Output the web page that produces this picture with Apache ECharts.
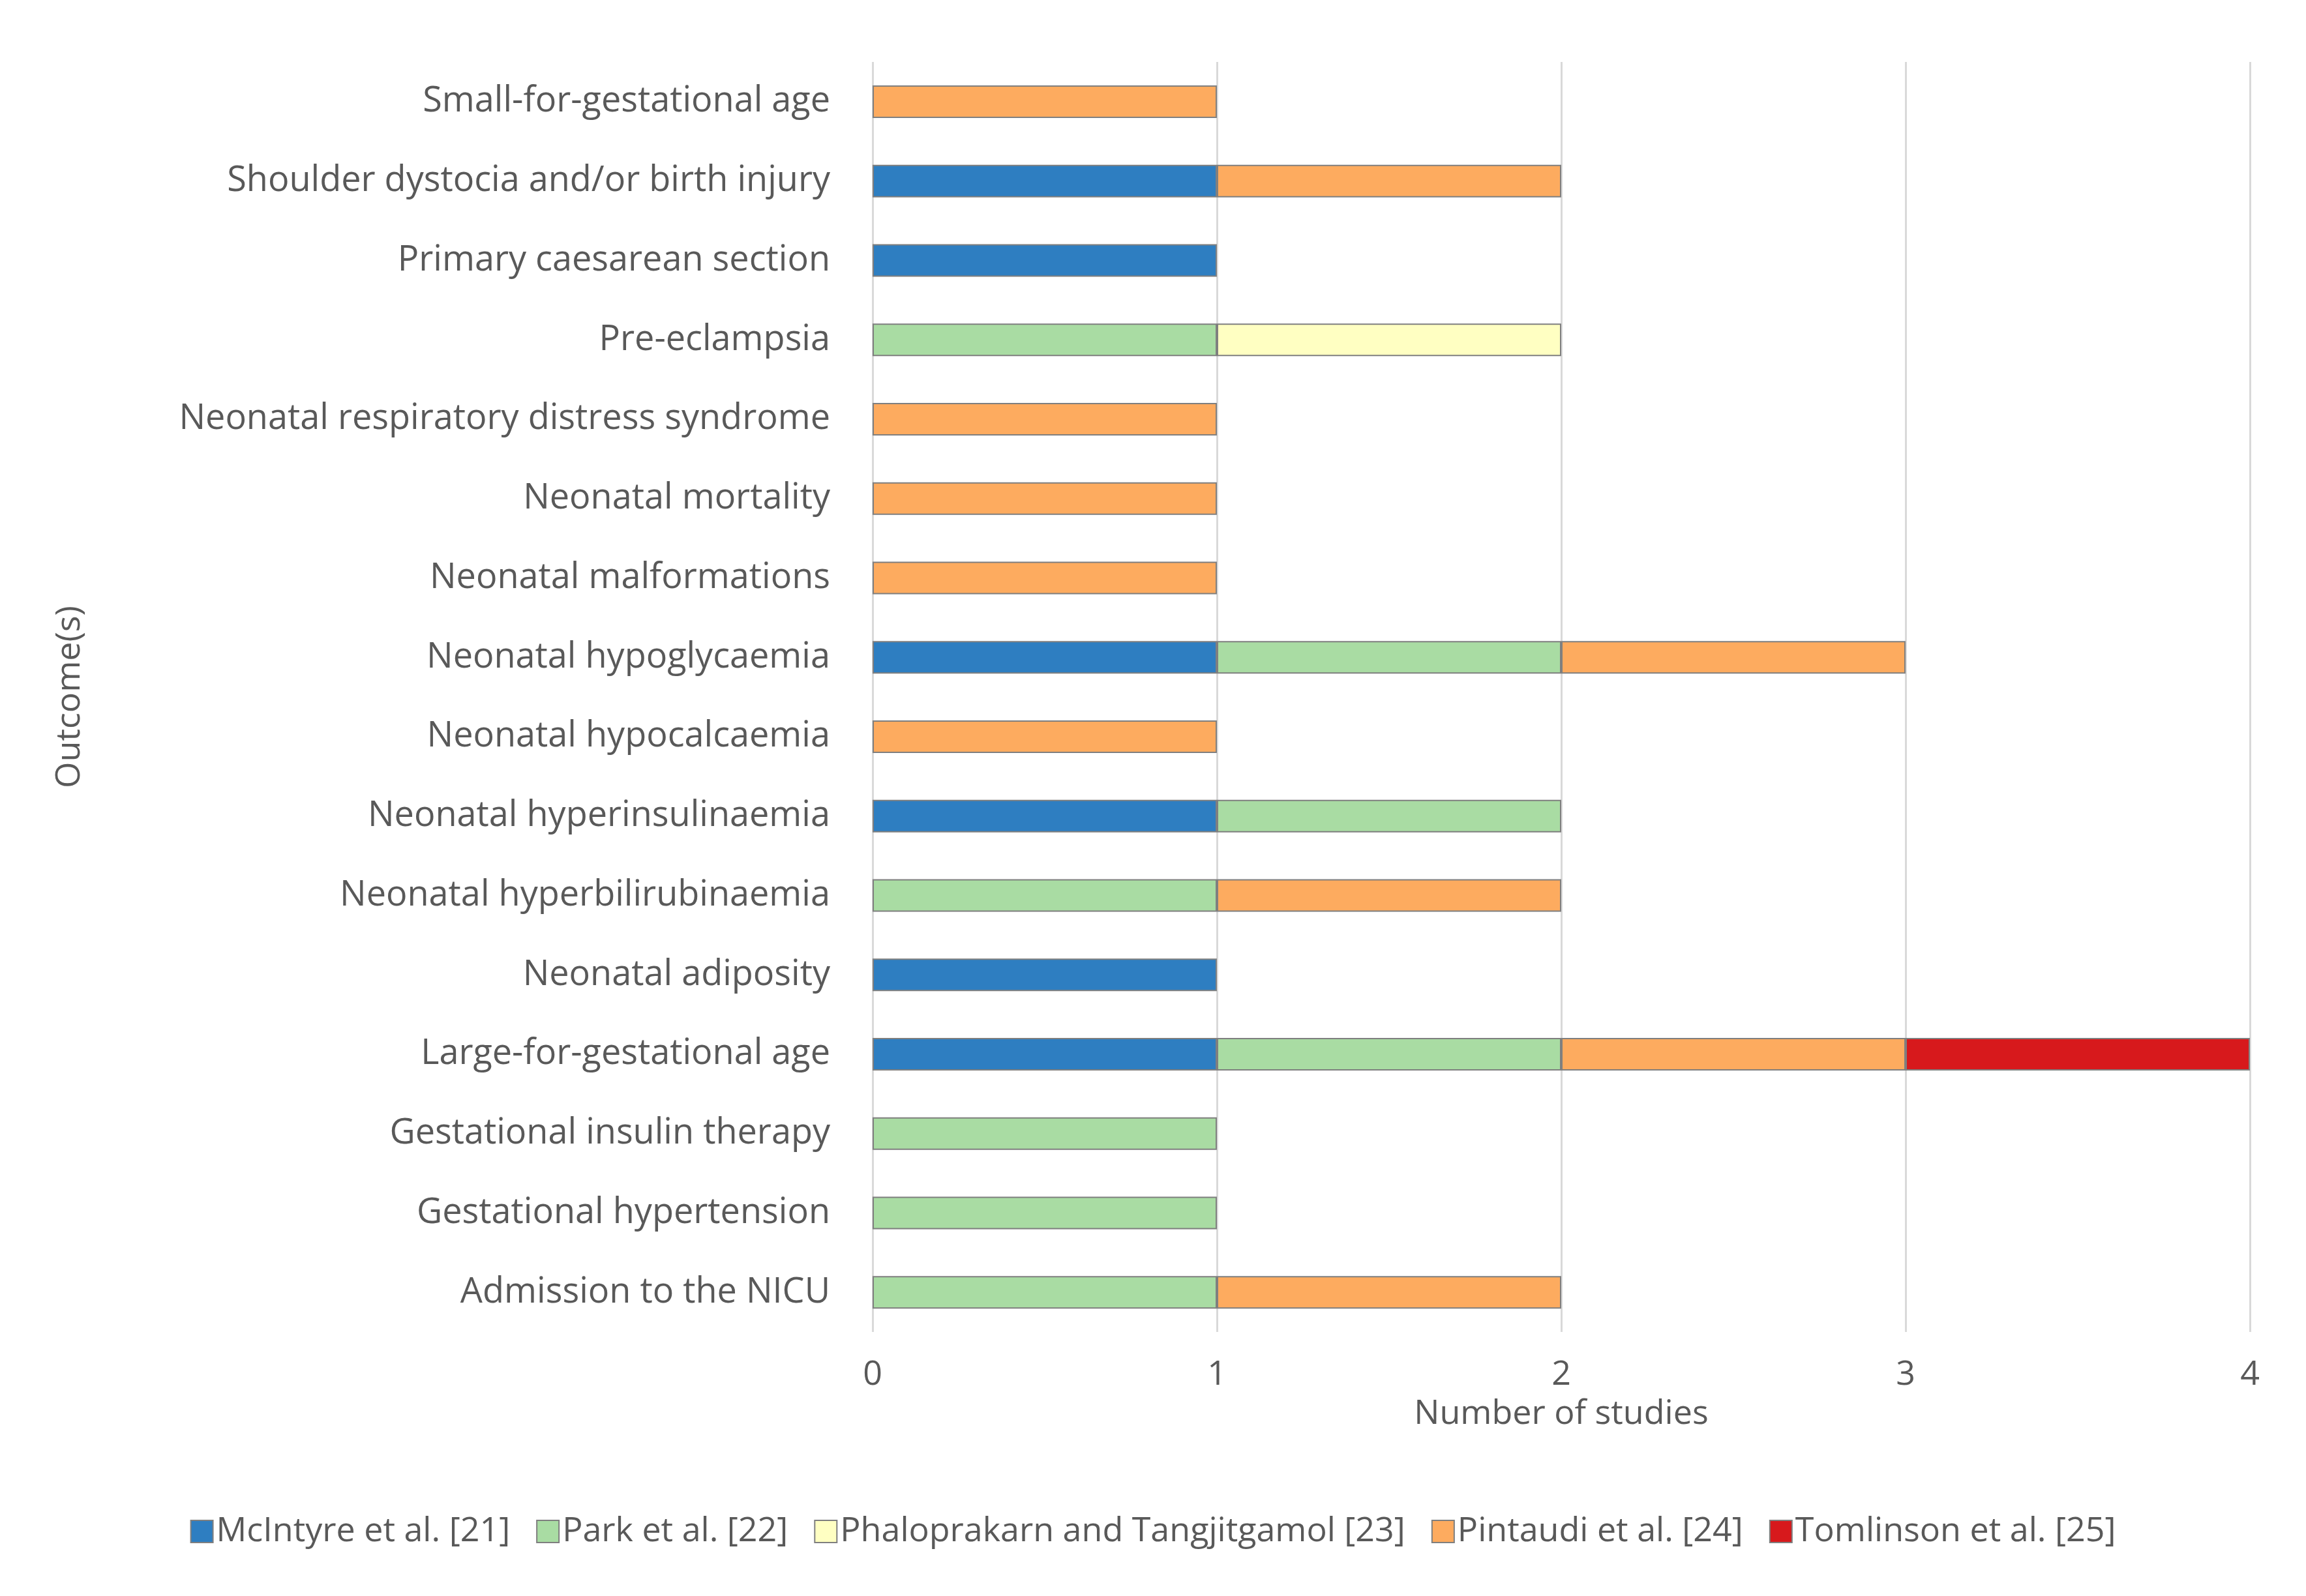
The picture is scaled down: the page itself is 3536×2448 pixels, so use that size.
<!DOCTYPE html>
<html>
<head>
<meta charset="utf-8">
<script src="https://cdn.jsdelivr.net/npm/echarts@6/dist/echarts.min.js"></script>
<style>html,body{margin:0;background:#fff}#chart{width:3536px;height:2448px}</style>
</head>
<body>
<div id="chart"></div>
<script>
// categories, top to bottom
const outcomes = [
    'Small-for-gestational age', 'Shoulder dystocia and/or birth injury', 'Primary caesarean section',
    'Pre-eclampsia', 'Neonatal respiratory distress syndrome', 'Neonatal mortality',
    'Neonatal malformations', 'Neonatal hypoglycaemia', 'Neonatal hypocalcaemia',
    'Neonatal hyperinsulinaemia', 'Neonatal hyperbilirubinaemia', 'Neonatal adiposity',
    'Large-for-gestational age', 'Gestational insulin therapy', 'Gestational hypertension',
    'Admission to the NICU'
];
const mcintyre  = [0, 1, 1, 0, 0, 0, 0, 1, 0, 1, 0, 1, 1, 0, 0, 0];
const park      = [0, 0, 0, 1, 0, 0, 0, 1, 0, 1, 1, 0, 1, 1, 1, 1];
const phalo     = [0, 0, 0, 1, 0, 0, 0, 0, 0, 0, 0, 0, 0, 0, 0, 0];
const pintaudi  = [1, 1, 0, 0, 1, 1, 1, 1, 1, 0, 1, 0, 1, 0, 0, 1];
const tomlinson = [0, 0, 0, 0, 0, 0, 0, 0, 0, 0, 0, 0, 1, 0, 0, 0];

const seriesDefs = [
    {name: 'McIntyre et al. [21]', data: mcintyre, color: '#2E7EC1'},
    {name: 'Park et al. [22]', data: park, color: '#A9DCA3'},
    {name: 'Phaloprakarn and Tangjitgamol [23]', data: phalo, color: '#FFFFC2'},
    {name: 'Pintaudi et al. [24]', data: pintaudi, color: '#FDAB5F'},
    {name: 'Tomlinson et al. [25]', data: tomlinson, color: '#D7191C'},
];

const font = 'Open Sans';
const chart = echarts.init(document.getElementById('chart'));
chart.setOption({
    animation: false,
    textStyle: {fontFamily: font, color: '#595959'},
    grid: {left: 1338, right: 86, top: 95, bottom: 405},
    legend: {
        bottom: 68, left: 'center', itemWidth: 34, itemHeight: 34, itemGap: 40,
        icon: 'rect',
        textStyle: {fontSize: 52, color: '#595959', fontFamily: font},
        data: seriesDefs.map(s => s.name)
    },
    xAxis: {
        type: 'value', min: 0, max: 4, interval: 1,
        name: 'Number of studies', nameLocation: 'middle', nameGap: 100,
        nameTextStyle: {fontSize: 52, color: '#595959'},
        axisLabel: {fontSize: 52, color: '#595959', margin: 40},
        axisLine: {show: false}, axisTick: {show: false},
        splitLine: {lineStyle: {color: '#d9d9d9', width: 3}}
    },
    yAxis: {
        type: 'category', data: outcomes, inverse: true,
        name: 'Outcome(s)', nameLocation: 'middle', nameGap: 1205,
        nameTextStyle: {fontSize: 52, color: '#595959'},
        axisLabel: {fontSize: 54, color: '#595959', margin: 65},
        axisLine: {show: false}, axisTick: {show: false}
    },
    series: seriesDefs.map(s => ({
        name: s.name, type: 'bar', stack: 'total', barWidth: 50,
        data: s.data.map(v => v || null),
        itemStyle: {color: s.color, borderColor: '#7f7f7f', borderWidth: 2}
    }))
});
</script>
</body>
</html>
